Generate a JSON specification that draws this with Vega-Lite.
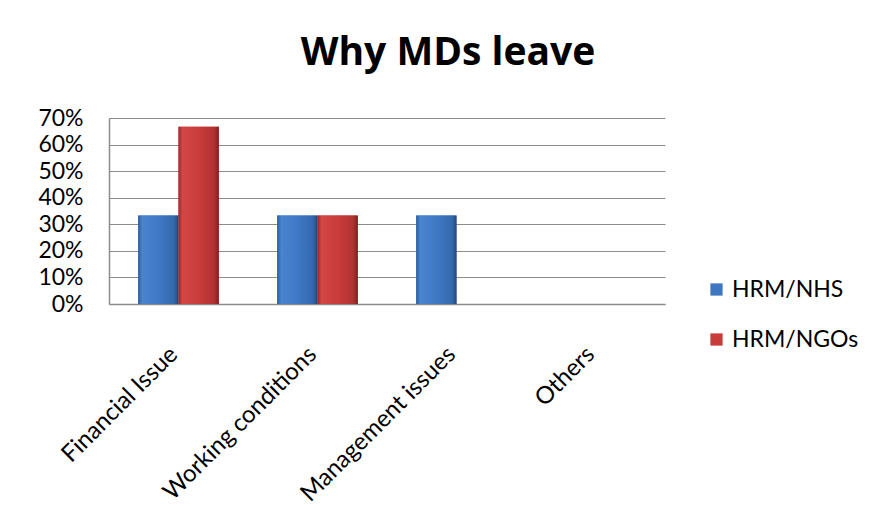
{
  "$schema": "https://vega.github.io/schema/vega-lite/v6.json",
  "width": 556,
  "height": 186,
  "autosize": {"type": "none"},
  "padding": {"left": 109, "top": 118, "right": 208, "bottom": 227},
  "background": "white",
  "title": {
    "text": "Why MDs leave",
    "font": "Open Sans",
    "fontSize": 39,
    "fontWeight": "bold",
    "color": "#000000",
    "anchor": "middle",
    "baseline": "alphabetic",
    "dx": 61,
    "offset": 3
  },
  "data": {
    "values": [
      {"reason": "Financial Issue", "group": "HRM/NHS", "share": 0.3333},
      {"reason": "Financial Issue", "group": "HRM/NGOs", "share": 0.6667},
      {"reason": "Working conditions", "group": "HRM/NHS", "share": 0.3333},
      {"reason": "Working conditions", "group": "HRM/NGOs", "share": 0.3333},
      {"reason": "Management issues", "group": "HRM/NHS", "share": 0.3333},
      {"reason": "Management issues", "group": "HRM/NGOs", "share": 0},
      {"reason": "Others", "group": "HRM/NHS", "share": 0},
      {"reason": "Others", "group": "HRM/NGOs", "share": 0}
    ]
  },
  "encoding": {
    "x": {
      "field": "reason",
      "type": "nominal",
      "sort": ["Financial Issue", "Working conditions", "Management issues", "Others"],
      "scale": {"paddingInner": 0.42, "paddingOuter": 0.21},
      "axis": {
        "title": null,
        "labelAngle": -45,
        "labelAlign": "right",
        "labelBaseline": "top",
        "labelFont": "Lato",
        "labelFontSize": 24,
        "labelColor": "#000000",
        "labelPadding": 38,
        "labelOffset": -13,
        "labelLimit": 0,
        "labelOverlap": false,
        "ticks": false,
        "domainColor": "#8c8c8c",
        "domainWidth": 1.5
      }
    },
    "xOffset": {
      "field": "group",
      "type": "nominal",
      "sort": ["HRM/NHS", "HRM/NGOs"]
    },
    "y": {
      "field": "share",
      "type": "quantitative",
      "scale": {"domain": [0, 0.7], "nice": false},
      "axis": {
        "title": null,
        "format": ".0%",
        "values": [0, 0.1, 0.2, 0.3, 0.4, 0.5, 0.6, 0.7],
        "labelFont": "Lato",
        "labelFontSize": 23,
        "labelColor": "#000000",
        "labelPadding": 26,
        "labelOverlap": false,
        "ticks": false,
        "grid": true,
        "gridColor": "#8c8c8c",
        "gridWidth": 1,
        "domainColor": "#8c8c8c",
        "domainWidth": 1.5
      }
    }
  },
  "layer": [
    {
      "mark": {"type": "bar"},
      "encoding": {
        "color": {
          "field": "group",
          "type": "nominal",
          "sort": ["HRM/NHS", "HRM/NGOs"],
          "scale": {"domain": ["HRM/NHS", "HRM/NGOs"], "range": ["#3f76c0", "#c93b3b"]},
          "legend": {
            "title": null,
            "orient": "none",
            "legendX": 596,
            "legendY": 160,
            "symbolType": "square",
            "symbolSize": 150,
            "symbolStrokeWidth": 0,
            "rowPadding": 26,
            "labelFont": "Lato",
            "labelFontSize": 23,
            "labelColor": "#000000",
            "labelOffset": 4
          }
        }
      }
    },
    {
      "mark": {"type": "bar"},
      "encoding": {
        "fill": {
          "condition": {
            "test": "datum.group === 'HRM/NHS'",
            "value": {
              "gradient": "linear",
              "x1": 0, "y1": 0, "x2": 1, "y2": 0,
              "stops": [
                {"offset": 0, "color": "#2f5f9e"},
                {"offset": 0.1, "color": "#4a83cf"},
                {"offset": 0.5, "color": "#3f78c4"},
                {"offset": 0.88, "color": "#346aae"},
                {"offset": 1, "color": "#24487a"}
              ]
            }
          },
          "value": {
            "gradient": "linear",
            "x1": 0, "y1": 0, "x2": 1, "y2": 0,
            "stops": [
              {"offset": 0, "color": "#9a2a2a"},
              {"offset": 0.1, "color": "#d24646"},
              {"offset": 0.5, "color": "#c93c3c"},
              {"offset": 0.88, "color": "#b33232"},
              {"offset": 1, "color": "#7e2222"}
            ]
          }
        }
      }
    }
  ],
  "config": {
    "view": {"stroke": null},
    "font": "Lato"
  }
}
